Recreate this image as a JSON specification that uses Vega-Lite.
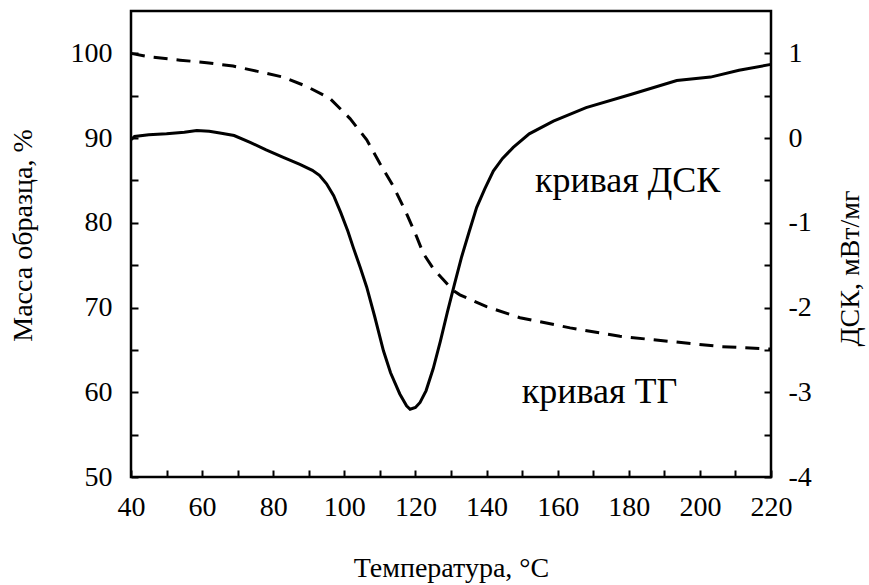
{
  "$schema": "https://vega.github.io/schema/vega-lite/v6.json",
  "autosize": "none",
  "width": 640,
  "height": 466,
  "padding": {"left": 131, "top": 11, "right": 98, "bottom": 108},
  "background": "white",
  "config": {
    "view": {"stroke": "black", "strokeWidth": 2.5},
    "font": "Liberation Serif, Times New Roman, serif",
    "axis": {
      "domain": false, "offset": -7, "ticks": true, "tickColor": "black", "tickWidth": 2, "tickOpacity": 1,
      "tickSize": 7, "grid": false, "zindex": 1, "labelFont": "Liberation Serif, Times New Roman, serif", "labelFontSize": 28,
      "labelColor": "black", "titleFont": "Liberation Serif, Times New Roman, serif", "titleFontSize": 28,
      "titleFontWeight": "normal", "titleColor": "black", "labelOverlap": false, "labelFlush": false
    }
  },
  "datasets": {
    "dsc": [
      {"t": 40, "v": -0.02}, {"t": 41, "v": 0.02}, {"t": 45, "v": 0.04}, {"t": 50, "v": 0.05},
      {"t": 55, "v": 0.07}, {"t": 58.5, "v": 0.09}, {"t": 62, "v": 0.08}, {"t": 65, "v": 0.06},
      {"t": 69, "v": 0.03}, {"t": 73.5, "v": -0.05}, {"t": 78, "v": -0.14}, {"t": 83, "v": -0.23},
      {"t": 87.5, "v": -0.31}, {"t": 91, "v": -0.38}, {"t": 93, "v": -0.44}, {"t": 95, "v": -0.54},
      {"t": 97, "v": -0.68}, {"t": 99, "v": -0.88}, {"t": 101, "v": -1.1}, {"t": 102.5, "v": -1.29},
      {"t": 104.5, "v": -1.53}, {"t": 106.3, "v": -1.76}, {"t": 108.5, "v": -2.1}, {"t": 111, "v": -2.51},
      {"t": 113, "v": -2.77}, {"t": 115.6, "v": -3.02}, {"t": 117.5, "v": -3.16}, {"t": 118.5, "v": -3.2},
      {"t": 120, "v": -3.18}, {"t": 121.3, "v": -3.12}, {"t": 123, "v": -2.98}, {"t": 125, "v": -2.72},
      {"t": 127, "v": -2.4}, {"t": 129, "v": -2.05}, {"t": 131, "v": -1.72}, {"t": 133, "v": -1.4},
      {"t": 135, "v": -1.12}, {"t": 137.2, "v": -0.82}, {"t": 139.5, "v": -0.6}, {"t": 141.9, "v": -0.39},
      {"t": 144.5, "v": -0.24}, {"t": 147.5, "v": -0.11}, {"t": 152, "v": 0.05}, {"t": 158.8, "v": 0.2},
      {"t": 168, "v": 0.36}, {"t": 181, "v": 0.52}, {"t": 193.5, "v": 0.68}, {"t": 203, "v": 0.72},
      {"t": 211, "v": 0.8}, {"t": 220, "v": 0.87}
    ],
    "tg": [
      {"t": 40, "v": 100.0}, {"t": 45, "v": 99.6}, {"t": 53.8, "v": 99.2}, {"t": 61.3, "v": 98.9},
      {"t": 68.7, "v": 98.5}, {"t": 75.3, "v": 97.9}, {"t": 82.8, "v": 97.2}, {"t": 89.4, "v": 96.1},
      {"t": 95.9, "v": 94.7}, {"t": 101.6, "v": 92.3}, {"t": 106.3, "v": 89.8}, {"t": 110, "v": 87.0},
      {"t": 113.8, "v": 84.3}, {"t": 117.5, "v": 81.1}, {"t": 120.3, "v": 78.4}, {"t": 122.2, "v": 76.4},
      {"t": 125, "v": 74.6}, {"t": 127.8, "v": 73.3}, {"t": 130.5, "v": 72.05}, {"t": 132.5, "v": 71.5},
      {"t": 140, "v": 70.1}, {"t": 149.4, "v": 68.8}, {"t": 163.5, "v": 67.6}, {"t": 177.5, "v": 66.6},
      {"t": 191.6, "v": 66.0}, {"t": 205.6, "v": 65.4}, {"t": 220, "v": 65.1}
    ],
    "labels": [
      {"t": 153.6, "v": 83.6, "label": "кривая ДСК"},
      {"t": 149.9, "v": 58.7, "label": "кривая ТГ"}
    ]
  },
  "encoding": {
    "x": {"field": "t", "type": "quantitative",
      "scale": {"domain": [40, 220], "nice": false},
      "axis": {"title": "Температура, °C", "values": [40,50,60,70,80,90,100,110,120,130,140,150,160,170,180,190,200,210,220],
        "labelExpr": "datum.value % 20 == 0 ? '' + datum.value : ''",
        "labelPadding": 16, "labelBaseline": "top", "titleY": 106, "titleX": 320, "titleBaseline": "alphabetic"}}
  },
  "layer": [
    {
      "encoding": {
        "y": {"field": "v", "type": "quantitative",
          "scale": {"domain": [50, 105], "nice": false, "zero": false},
          "axis": {"orient": "left", "title": "Масса образца, %", "values": [50,55,60,65,70,75,80,85,90,95,100],
            "labelExpr": "datum.value % 10 == 0 ? '' + datum.value : ''",
            "labelPadding": 19, "titleAngle": -90, "titleX": -115, "titleY": 224, "titleBaseline": "middle", "titleAlign": "center"}}
      },
      "layer": [
        {
          "data": {"name": "tg"},
          "mark": {"type": "line", "color": "black", "strokeWidth": 3, "strokeDash": [14, 9]}
        },
        {
          "data": {"name": "labels"},
          "mark": {"type": "text", "align": "left", "baseline": "alphabetic", "fontSize": 36, "font": "Liberation Serif, Times New Roman, serif", "color": "black"},
          "encoding": {
            "text": {"field": "label"}
          }
        }
      ]
    },
    {
      "data": {"name": "dsc"},
      "mark": {"type": "line", "color": "black", "strokeWidth": 3},
      "encoding": {
        "y": {"field": "v", "type": "quantitative",
          "scale": {"domain": [-4, 1.5], "nice": false, "zero": false},
          "axis": {"orient": "right", "title": "ДСК, мВт/мг", "values": [-4,-3.5,-3,-2.5,-2,-1.5,-1,-0.5,0,0.5,1],
            "labelExpr": "datum.value % 1 == 0 ? '' + datum.value : ''",
            "labelPadding": 17, "titleAngle": -90, "titleX": 86, "titleY": 257, "titleBaseline": "middle", "titleAlign": "center"}}
      }
    }
  ],
  "resolve": {"scale": {"y": "independent"}}
}
